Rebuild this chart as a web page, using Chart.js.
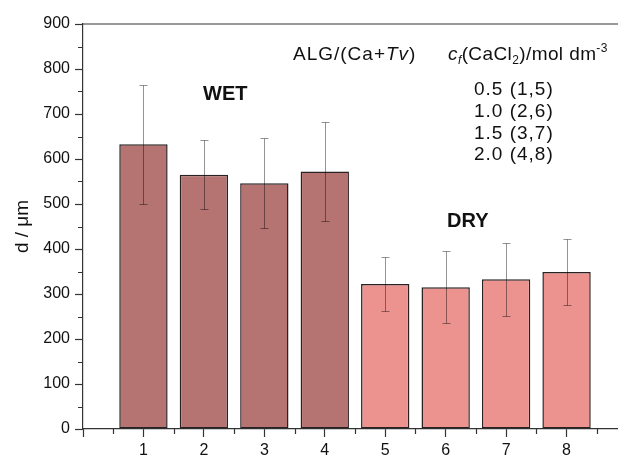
<!DOCTYPE html>
<html>
<head>
<meta charset="utf-8">
<script src="https://cdn.jsdelivr.net/npm/chart.js"></script>
<style>
  html, body { margin: 0; padding: 0; background: #fff; overflow: hidden; }
  #wrap { width: 618px; height: 456px; overflow: hidden; }
  canvas { display: block; }
</style>
</head>
<body>
<div id="wrap"><canvas id="beadChart" width="640" height="456"></canvas></div>
<script>
// bead diameters (um)
const wetSamples = [1, 2, 3, 4];
const wetMeans = [633, 565, 546, 572];
const wetErrors = [132, 77, 100, 110];
const drySamples = [5, 6, 7, 8];
const dryMeans = [322, 315, 333, 349];
const dryErrors = [60, 80, 81, 73];
const concLines = ['0.5 (1,5)', '1.0 (2,6)', '1.5 (3,7)', '2.0 (4,8)'];

const FONT = "'Liberation Sans', Arial, sans-serif";
const axisColor = '#333';

// error bars drawn through the scales
const errorBars = {
  id: 'errorBars',
  afterDatasetsDraw(chart) {
    const ctx = chart.ctx;
    const y = chart.scales.y;
    ctx.save();
    ctx.strokeStyle = 'rgba(0,0,0,0.42)';
    ctx.lineWidth = 1;
    chart.data.datasets.forEach((ds, di) => {
      const meta = chart.getDatasetMeta(di);
      meta.data.forEach((bar, i) => {
        const v = ds.data[i].y, e = ds.errors[i];
        const top = Math.round(y.getPixelForValue(v + e)) + 0.5;
        const bot = Math.round(y.getPixelForValue(v - e)) + 0.5;
        const x = Math.round(bar.x) + 0.5;
        ctx.beginPath();
        ctx.moveTo(x, top); ctx.lineTo(x, bot);
        ctx.moveTo(x - 4, top); ctx.lineTo(x + 4, top);
        ctx.moveTo(x - 4, bot); ctx.lineTo(x + 4, bot);
        ctx.stroke();
      });
    });
    ctx.restore();
  }
};

// minor ticks, top frame line and text annotations
const extras = {
  id: 'extras',
  afterDraw(chart) {
    const ctx = chart.ctx;
    const xs = chart.scales.x, ys = chart.scales.y;
    const a = chart.chartArea;
    ctx.save();
    ctx.strokeStyle = axisColor;
    ctx.lineWidth = 1.2;
    ctx.beginPath();
    for (let v = 50; v < 900; v += 100) {
      const py = Math.round(ys.getPixelForValue(v)) + 0.5;
      ctx.moveTo(a.left - 5, py); ctx.lineTo(a.left, py);
    }
    for (let v = 0.5; v < 9; v += 1) {
      const px = Math.round(xs.getPixelForValue(v)) + 0.5;
      ctx.moveTo(px, a.bottom); ctx.lineTo(px, a.bottom + 5);
    }
    ctx.moveTo(a.left, a.top); ctx.lineTo(a.right, a.top);
    ctx.stroke();

    ctx.fillStyle = '#111';
    ctx.textBaseline = 'alphabetic';
    ctx.textAlign = 'left';
    ctx.font = 'bold 20px ' + FONT;
    ctx.fillText('WET', 203, 100);
    ctx.fillText('DRY', 447, 227);

    const runs = (x, yb, parts) => {
      parts.forEach(p => {
        ctx.font = p.f + FONT;
        ctx.fillText(p.t, x, yb + (p.dy || 0));
        x += ctx.measureText(p.t).width;
      });
    };
    ctx.letterSpacing = '1px';
    runs(293, 60, [
      { t: 'ALG/(Ca+', f: '19px ' },
      { t: 'Tv', f: 'italic 19px ' },
      { t: ')', f: '19px ' }
    ]);
    ctx.letterSpacing = '0.4px';
    runs(448, 60, [
      { t: 'c', f: 'italic 19px ' },
      { t: 'f', f: 'italic 12px ', dy: 4 },
      { t: '(CaCl', f: '19px ' },
      { t: '2', f: '12px ', dy: 4 },
      { t: ')/mol dm', f: '19px ' },
      { t: '-3', f: '12px ', dy: -8 }
    ]);
    ctx.letterSpacing = '1px';
    ctx.font = '19px ' + FONT;
    concLines.forEach((s, i) => ctx.fillText(s, 474, 95 + i * 21.8));
    ctx.restore();
  }
};

const ctx = document.getElementById('beadChart').getContext('2d');
new Chart(ctx, {
  type: 'bar',
  data: {
    datasets: [{
      label: 'WET',
      data: wetSamples.map((s, i) => ({ x: s, y: wetMeans[i] })),
      errors: wetErrors,
      backgroundColor: '#b57371',
      borderColor: '#2a2222',
      borderWidth: 1.5,
      borderSkipped: false
    }, {
      label: 'DRY',
      data: drySamples.map((s, i) => ({ x: s, y: dryMeans[i] })),
      errors: dryErrors,
      backgroundColor: '#ec9390',
      borderColor: '#2a2222',
      borderWidth: 1.5,
      borderSkipped: false
    }]
  },
  options: {
    responsive: false,
    devicePixelRatio: 1,
    animation: false,
    grouped: false,
    categoryPercentage: 1,
    barPercentage: 0.8,
    layout: { padding: { left: 0, right: 13, top: 24, bottom: 0 } },
    plugins: { legend: { display: false }, tooltip: { enabled: false } },
    scales: {
      x: {
        type: 'linear',
        min: 0,
        max: 9,
        offset: false,
        afterFit: s => { s.height = 27; },
        ticks: {
          stepSize: 1,
          padding: 4,
          color: '#111',
          font: { family: FONT, size: 16 },
          callback: v => (v >= 1 && v <= 8 ? String(v) : '')
        },
        grid: { offset: false, drawOnChartArea: false, tickLength: 8, tickColor: axisColor, tickWidth: 1.2 },
        border: { color: axisColor, width: 1.2 }
      },
      y: {
        min: 0,
        max: 900,
        afterFit: s => { s.width = 83; },
        ticks: {
          stepSize: 100,
          padding: 5,
          color: '#111',
          font: { family: FONT, size: 16 }
        },
        grid: { drawOnChartArea: false, tickLength: 8, tickColor: axisColor, tickWidth: 1.2 },
        border: { color: axisColor, width: 1.2 },
        title: {
          display: true,
          text: 'd / \u03bcm',
          color: '#111',
          font: { family: FONT, size: 19 },
          padding: { top: 11 }
        }
      }
    }
  },
  plugins: [errorBars, extras]
});
</script>
</body>
</html>
